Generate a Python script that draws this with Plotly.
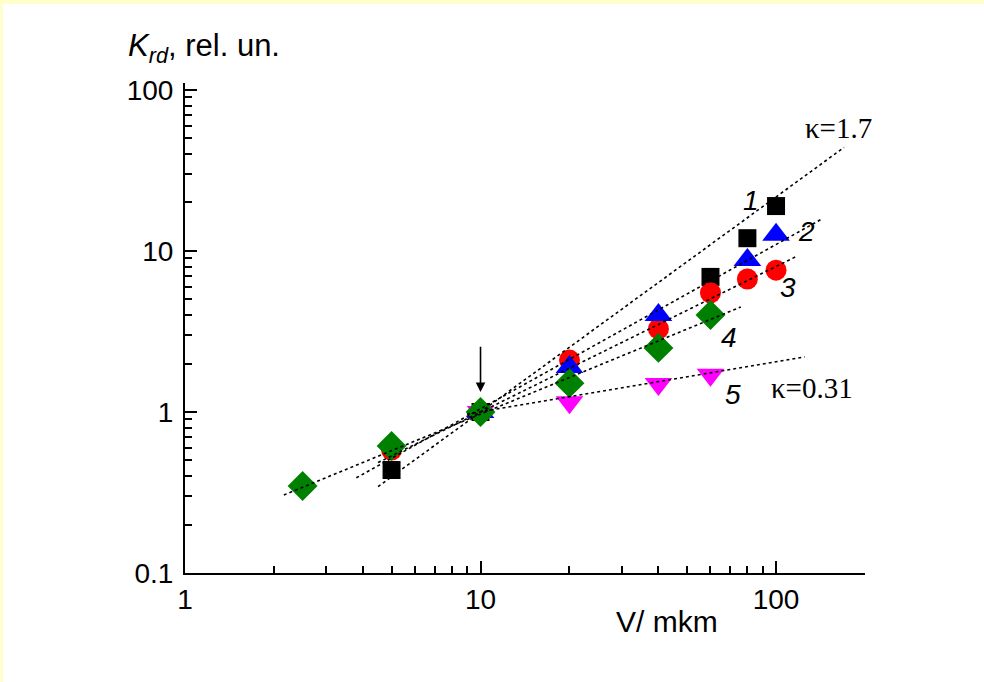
import numpy as np
import plotly.graph_objects as go

# ---- data ----
x1 = [5, 10, 60, 80, 100]
y1 = [0.436, 1.0, 6.9, 12.0, 19.0]
x2 = [10, 20, 40, 80, 100]
y2 = [1.0, 1.9, 4.0, 8.8, 12.6]
x3 = [5, 10, 20, 40, 60, 80, 100]
y3 = [0.58, 1.0, 2.1, 3.28, 5.5, 6.7, 7.6]
x4 = [2.5, 5, 10, 20, 40, 60]
y4 = [0.347, 0.615, 1.0, 1.51, 2.5, 4.0]
x5 = [10, 20, 40, 60]
y5 = [1.0, 1.15, 1.49, 1.70]

# fitted power-law lines (start, end)
fit1_x = [4.5, 170]; fit1_y = [0.344, 44.0]
fit2_x = [3.8, 143]; fit2_y = [0.39, 15.8]
fit3_x = [4.5, 118]; fit3_y = [0.485, 9.3]
fit4_x = [2.16, 76]; fit4_y = [0.305, 4.49]
fit5_x = [9, 125];   fit5_y = [0.97, 2.2]

curve_labels = ["1", "2", "3", "4", "5"]
label_x = [82.3, 127, 110, 69.4, 71.6]
label_y = [20.7, 13.3, 5.9, 2.92, 1.29]

kappa_text = ["κ=1.7", "κ=0.31"]
kappa_x = [163, 132]
kappa_y = [58, 1.41]

x_ticks = [1, 10, 100]
y_ticks = [0.1, 1, 10, 100]

fig = go.Figure()

def add_pts(x, y, sym, color, size):
    fig.add_trace(go.Scatter(x=x, y=y, mode="markers",
                             marker=dict(symbol=sym, color=color, size=size, line=dict(width=0)),
                             showlegend=False))

add_pts(x5, y5, "triangle-down", "#ff00ff", 24)
add_pts(x1, y1, "square", "#000000", 18)
add_pts(x3, y3, "circle", "#ff0000", 21)
add_pts(x2, y2, "triangle-up", "#0000ff", 24)
add_pts(x4, y4, "diamond", "#008000", 23)

for fx, fy in [(fit1_x, fit1_y), (fit2_x, fit2_y), (fit3_x, fit3_y), (fit4_x, fit4_y), (fit5_x, fit5_y)]:
    fig.add_trace(go.Scatter(x=fx, y=fy, mode="lines",
                             line=dict(color="black", width=1.6, dash="dot"),
                             showlegend=False))

ann = []
for t, lx, ly in zip(curve_labels, label_x, label_y):
    ann.append(dict(x=np.log10(lx), y=np.log10(ly), xref="x", yref="y", text="<i>%s</i>" % t,
                    showarrow=False, font=dict(family="Liberation Sans", size=28, color="black")))
for t, lx, ly in zip(kappa_text, kappa_x, kappa_y):
    ann.append(dict(x=np.log10(lx), y=np.log10(ly), xref="x", yref="y", text=t,
                    showarrow=False, font=dict(family="Liberation Serif", size=29, color="black")))
# arrow at V = 10
ann.append(dict(x=1, y=np.log10(1.33), xref="x", yref="y", ax=1, ay=np.log10(2.6),
                axref="x", ayref="y", text="", showarrow=True, arrowhead=2, arrowsize=1.2,
                arrowwidth=1.6, arrowcolor="black"))
# axis titles (pixel positions converted below)
ann.append(dict(x=667, y=621, xref="paper", yref="paper", xanchor="center", yanchor="middle",
                text="V/ mkm", showarrow=False,
                font=dict(family="Liberation Sans", size=30, color="black")))
ann.append(dict(x=126, y=48, xref="paper", yref="paper", xanchor="left", yanchor="middle",
                text="<i>K</i><sub><i>rd</i></sub>, rel. un.", showarrow=False,
                font=dict(family="Liberation Sans", size=31, color="black")))

L, R, T, B = 185, 119, 83, 109
W, H = 984, 682
pw, ph = W - L - R, H - T - B

for a in ann:
    if a.get("xref") == "paper":
        a["x"] = (a["x"] - L) / pw
        a["y"] = (H - B - a["y"]) / ph

shapes = [dict(type="rect", xref="paper", yref="paper", layer="below",
               x0=(3 - L) / pw, x1=(W - L) / pw,
               y0=(H - B - H) / ph, y1=(H - B - 4) / ph,
               fillcolor="white", line=dict(width=0))]

axis_common = dict(type="log", showgrid=False, zeroline=False, showline=True, linecolor="black",
                   linewidth=2, ticks="inside", ticklen=12, tickwidth=2, tickcolor="black",
                   tickfont=dict(family="Liberation Sans", size=28, color="black"),
                   minor=dict(ticks="inside", ticklen=7, tickwidth=1.5, tickcolor="black", dtick="D1"))

fig.update_layout(
    width=W, height=H, margin=dict(l=L, r=R, t=T, b=B),
    paper_bgcolor="#ffffcc", plot_bgcolor="white",
    annotations=ann, shapes=shapes,
    xaxis=dict(range=[0, np.log10(200)], tickvals=x_ticks, ticktext=["1", "10", "100"], **axis_common),
    yaxis=dict(range=[-1, 2.043], tickvals=y_ticks, ticktext=["0.1", "1", "10", "100"],
               ticklabelstandoff=4, **axis_common),
)
fig.write_html("out.html", config={"displayModeBar": False},
               post_script="document.body.style.margin='0';document.documentElement.style.overflow='hidden';")
